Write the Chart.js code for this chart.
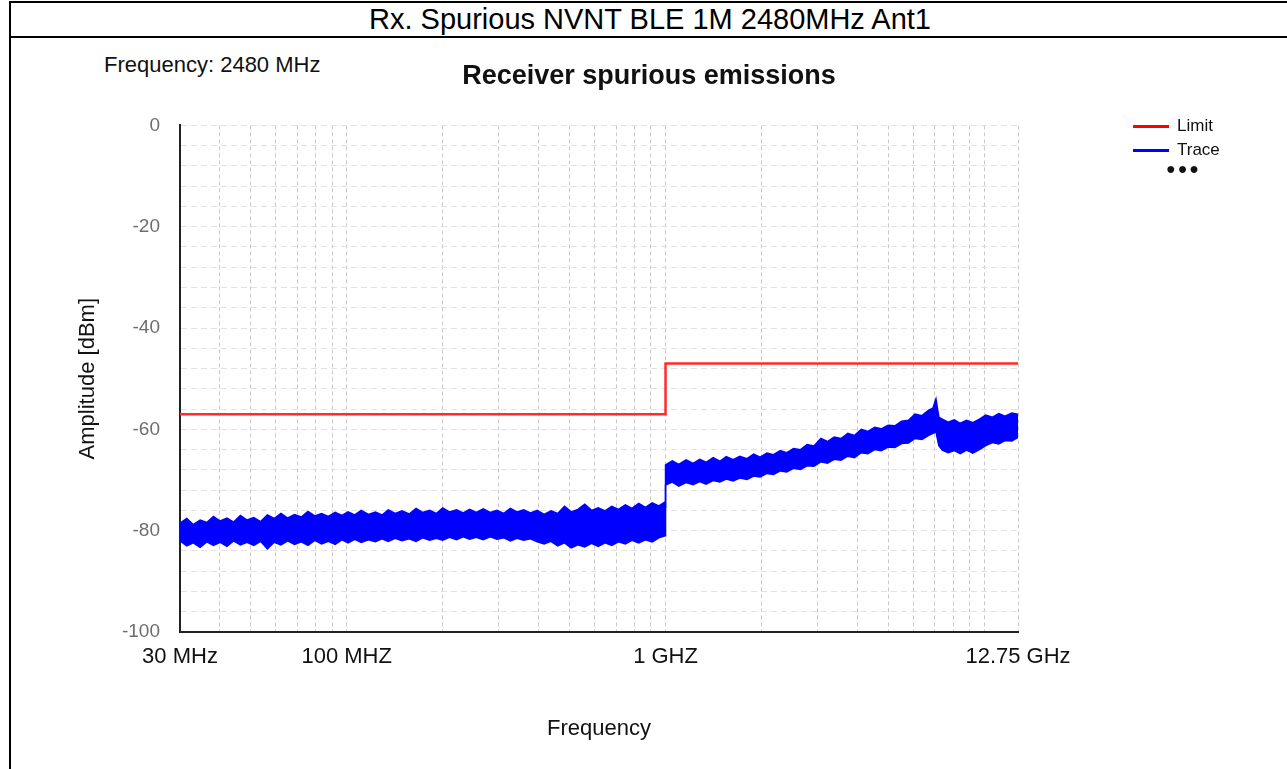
<!DOCTYPE html>
<html>
<head>
<meta charset="utf-8">
<script src="https://cdn.jsdelivr.net/npm/chart.js@4"></script>
<style>
  html, body { margin: 0; padding: 0; background: #fff; }
  body { width: 1287px; height: 769px; position: relative; overflow: hidden; font-family: "Liberation Sans", Arial, sans-serif; }
  #frame { position: absolute; left: 9px; top: 1px; width: 1278px; height: 768px; border-left: 2px solid #000; border-top: 2px solid #000; }
  #head { position: absolute; left: 0; top: 0; width: 1278px; height: 33px; border-bottom: 2px solid #000; text-align: center; font-size: 29px; line-height: 33px; color: #000; }
  #freq { position: absolute; left: 104px; top: 52px; font-size: 22px; color: #111; }
  #box { position: absolute; left: 11px; top: 37px; width: 1276px; height: 732px; }
  .leg { position: absolute; left: 1133px; font-size: 17px; color: #111; }
  .leg i { display: inline-block; width: 36px; height: 3px; vertical-align: middle; margin-right: 8px; }
</style>
</head>
<body>
<div id="frame"><div id="head">Rx. Spurious NVNT BLE 1M 2480MHz Ant1</div></div>
<div id="freq">Frequency: 2480 MHz</div>
<div id="box"><canvas id="chart"></canvas></div>
<div class="leg" style="top:116px"><i style="background:#ff0000"></i>Limit</div>
<div class="leg" style="top:140px"><i style="background:#0000ff"></i>Trace</div>
<div class="leg" style="top:160px;left:1166px;font-size:16px;letter-spacing:2px">&#9679;&#9679;&#9679;</div>
<script>
// limit line (MHz / dBm)
var limitFreq = [30, 1000, 1000, 12750];
var limitLevel = [-57, -57, -47, -47];

// trace envelope (MHz / dBm): top and bottom edge of the noise band
var traceFreq = [30, 31.5, 33, 34.7, 36.4, 38.2, 40.1, 42.1, 44.2, 46.4, 48.7, 51.1, 53.7, 56.4, 59.2, 62.2,
  65.3, 68.6, 72, 75.6, 79.4, 83.4, 87.6, 92, 96.6, 101, 106, 111, 117, 123, 129, 135, 142, 149, 157, 165,
  173, 182, 191, 200, 210, 221, 232, 243, 255, 268, 282, 296, 311, 326, 342, 359, 377, 396, 416, 437,
  459, 482, 506, 531, 558, 586, 615, 646, 678, 712, 748, 785, 824, 865, 908, 953, 998, 1000,
  1000, 1050, 1100, 1160, 1220, 1280, 1340, 1410, 1480, 1550, 1630, 1710, 1800, 1890, 1980, 2080,
  2180, 2290, 2400, 2520, 2650, 2780, 2920, 3070, 3220, 3380, 3550, 3730, 3910, 4110, 4310, 4530,
  4750, 4990, 5240, 5500, 5780, 6060, 6370, 6690, 6900, 7050, 7200, 7380, 7700, 8050, 8400, 8800,
  9200, 9650, 10100, 10600, 11100, 11600, 12200, 12750];
var traceHigh = [-78.5, -77.6, -78.8, -77.9, -78.4, -77.2, -78.1, -77.5, -78.3, -77.0, -77.9, -77.4, -78.2, -76.9, -77.6, -76.6,
  -77.5, -76.8, -77.3, -76.2, -77.1, -76.6, -77.2, -76.4, -77.0, -76.3, -76.9, -76.0, -76.8, -76.3, -76.9, -75.9, -76.6, -76.1, -76.7, -75.6,
  -76.4, -76.0, -76.6, -75.5, -76.3, -75.9, -76.5, -75.8, -76.4, -75.7, -76.4, -76.0, -76.6, -75.6, -76.3, -75.9, -76.5, -76.0, -76.8, -76.1,
  -76.6, -75.2, -76.3, -75.8, -74.8, -76.0, -75.5, -76.1, -75.2, -75.8, -74.9, -75.6, -74.6, -75.4, -74.5, -75.1, -74.3, -75.5,
  -67.0, -66.2, -66.9, -66.0, -66.7, -65.9, -66.5, -65.6, -66.3, -65.4, -66.0, -65.3, -65.8, -64.9, -65.5, -64.7,
  -65.0, -64.2, -64.6, -63.8, -64.0, -63.0, -63.3, -61.8, -62.4, -61.5, -61.8, -60.8, -61.2, -60.0, -60.4, -59.6,
  -59.9, -59.2, -59.3, -58.4, -58.2, -57.0, -57.3, -56.2, -55.8, -54.0, -57.6, -58.0, -58.6, -58.1, -58.8, -58.2,
  -58.7, -58.0, -57.2, -57.6, -56.9, -57.4, -56.8, -57.0];
var traceLow = [-82.0, -83.0, -82.4, -83.3, -82.2, -82.9, -82.3, -83.1, -82.0, -82.8, -82.3, -82.9, -82.1, -83.6, -82.3, -82.8,
  -82.0, -82.7, -82.2, -82.9, -81.9, -82.6, -82.1, -82.7, -81.8, -82.4, -81.7, -82.3, -81.8, -82.2, -81.6, -82.1, -81.5, -82.0, -81.6, -82.1,
  -81.4, -81.9, -81.5, -81.9, -81.3, -81.8, -81.2, -81.7, -81.3, -81.8, -81.2, -81.7, -81.4, -82.0, -81.5, -81.9, -81.6, -82.2, -82.6, -82.1,
  -83.0, -82.4, -83.4, -82.8, -83.2, -82.5, -83.1, -82.4, -82.9, -82.2, -82.6, -81.9, -82.4, -81.8, -82.2, -81.4, -81.0, -80.5,
  -71.0, -70.4, -71.2, -70.5, -70.9, -70.3, -70.8, -70.1, -70.4, -69.8, -70.2, -69.6, -69.9, -69.2, -69.4, -68.7,
  -68.9, -68.2, -68.4, -67.7, -67.9, -67.2, -67.3, -66.4, -66.7, -65.9, -66.1, -65.3, -65.6, -64.6, -64.8, -64.0,
  -64.2, -63.5, -63.6, -62.8, -62.7, -61.8, -62.0, -61.2, -60.8, -60.5, -63.2, -64.1, -64.6, -64.2, -64.8, -64.1,
  -64.7, -64.0, -63.2, -62.6, -62.9, -62.2, -62.3, -61.6];

// x grid ticks and the few that carry a label
var xGridTicks = [30, 40, 50, 60, 70, 80, 90, 100, 200, 300, 400, 500, 600, 700, 800, 900,
  1000, 2000, 3000, 4000, 5000, 6000, 7000, 8000, 9000, 10000, 12750];
var xLabelAt = [30, 100, 1000, 12750];
var xLabelText = ['30 MHz', '100 MHZ', '1 GHZ', '12.75 GHz'];

function pts(xs, ys) {
  return xs.map(function(x, i) { return { x: x, y: ys[i] }; });
}

var ctx = document.getElementById('chart');
var fam = '"Liberation Sans", Arial, sans-serif';

var myChart = new Chart(ctx, {
  type: 'line',
  data: {
    datasets: [{
      label: 'Limit',
      data: pts(limitFreq, limitLevel),
      borderColor: '#ff2a2a',
      borderWidth: 2.5,
      pointRadius: 0,
      fill: false
    }, {
      label: 'Trace',
      data: pts(traceFreq, traceHigh),
      borderColor: '#0000ff',
      borderWidth: 1.5,
      pointRadius: 0,
      fill: false
    }, {
      label: 'Trace low',
      data: pts(traceFreq, traceLow),
      borderColor: '#0000ff',
      backgroundColor: '#0000ff',
      borderWidth: 1.5,
      pointRadius: 0,
      fill: '-1'
    }]
  },
  options: {
    responsive: true,
    maintainAspectRatio: false,
    animation: false,
    events: [],
    layout: { padding: { left: 0, right: 0, top: 0, bottom: 27 } },
    plugins: {
      legend: { display: false },
      tooltip: { enabled: false },
      title: {
        display: true,
        text: 'Receiver spurious emissions',
        color: '#111',
        font: { family: fam, size: 27, weight: 'bold' },
        padding: { top: 23, bottom: 33 }
      }
    },
    scales: {
      x: {
        type: 'logarithmic',
        min: 30,
        max: 12750,
        afterBuildTicks: function(scale) {
          scale.ticks = xGridTicks.map(function(v) { return { value: v }; });
        },
        afterFit: function(scale) { scale.height = 110; },
        ticks: {
          autoSkip: false,
          maxRotation: 0,
          padding: 12,
          color: '#111',
          font: { family: fam, size: 22 },
          callback: function(value) {
            var k = xLabelAt.indexOf(value);
            return k < 0 ? '' : xLabelText[k];
          }
        },
        grid: { color: '#c8c8c8', lineWidth: 1, drawTicks: false },
        border: { color: '#222', width: 2, dash: [4, 3] },
        title: {
          display: true,
          text: 'Frequency',
          color: '#111',
          padding: { top: 0, bottom: 0 },
          font: { family: fam, size: 22 }
        }
      },
      y: {
        min: -100,
        max: 0,
        afterFit: function(scale) { scale.width = 169; },
        ticks: {
          stepSize: 4,
          autoSkip: false,
          padding: 20,
          color: '#6e6e6e',
          font: { family: fam, size: 19 },
          callback: function(value) { return value % 20 === 0 ? value : ''; }
        },
        grid: { color: '#e2e2e2', lineWidth: 1, drawTicks: false },
        border: { color: '#222', width: 2, dash: [6, 4] },
        title: {
          display: true,
          text: 'Amplitude [dBm]',
          color: '#111',
          padding: { top: 64, bottom: 0 },
          font: { family: fam, size: 22 }
        }
      },
      // empty axis that only reserves the legend column on the right
      side: {
        position: 'right',
        afterFit: function(scale) { scale.width = 269; },
        ticks: { display: false },
        grid: { display: false, drawTicks: false },
        border: { display: false }
      }
    }
  }
});
</script>
</body>
</html>
